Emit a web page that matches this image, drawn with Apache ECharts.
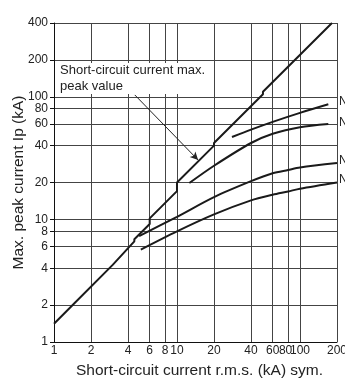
<!DOCTYPE html>
<html><head><meta charset="utf-8">
<script src="https://cdn.jsdelivr.net/npm/echarts@6/dist/echarts.min.js"></script>
<style>html,body{margin:0;padding:0;background:#fff}#c{width:345px;height:383px}</style>
</head><body><div id="c"></div>
<script>
// tick labels
const xTicks = [1, 2, 4, 6, 8, 10, 20, 40, 60, 80, 100, 200];
const yTicks = [1, 2, 4, 6, 8, 10, 20, 40, 60, 80, 100, 200, 400];
// short-circuit current max. peak value (stepped)
const peakX = [1, 1.5, 1.5, 3, 3, 4.5, 4.5, 6, 6, 10, 10, 20, 20, 50, 50, 182];
const peakY = [1.41, 2.12, 2.13, 4.26, 4.41, 6.62, 6.89, 9.18, 10.2, 17, 20, 40, 42, 105, 110, 400];
// breaker curves
const curveAX = [28, 40, 60, 100, 170];
const curveAY = [47, 54, 62.5, 74, 87];
const curveBX = [12.6, 20, 40, 60, 100, 170];
const curveBY = [19.8, 27.4, 42, 50, 56.5, 60];
const curveCX = [4.92, 10, 20, 40, 60, 80, 100, 200];
const curveCY = [7.3, 10.5, 15.2, 20.5, 23.8, 25.3, 26.5, 28.8];
const curveDX = [5.08, 10, 20, 40, 60, 80, 100, 200];
const curveDY = [5.68, 8.0, 11, 14.3, 15.9, 16.9, 17.8, 20];
// annotation arrow (data coordinates)
const arrowFrom = [4.54, 103.6];
const arrowTo = [14.85, 30.5];
const annotationText = 'Short-circuit current max.\npeak value';
const curveLabels = ['N', 'N', 'N', 'N'];

const font = '"Liberation Sans", Arial, Helvetica, sans-serif';
const zip = (xs, ys) => xs.map((x, i) => [x, ys[i]]);
const ls = { color: '#1a1a1a', width: 2 };
const txt = '#222';

const chart = echarts.init(document.getElementById('c'), null, { renderer: 'canvas' });
const mkSeries = (data, extra) => Object.assign({
  type: 'line', data: data, showSymbol: false, symbol: 'none', lineStyle: ls,
  silent: true, clip: true, z: 3
}, extra || {});

const labelY = [101.7, 122.3, 161, 179.3];

chart.setOption({
  animation: false,
  backgroundColor: '#fff',
  grid: { left: 54, top: 23, right: 8, bottom: 41, containLabel: false, outerBoundsMode: 'none' },
  xAxis: {
    type: 'log', logBase: 10, min: 1, max: 200,
    name: 'Short-circuit current r.m.s. (kA) sym.', nameLocation: 'middle', nameGap: 21,
    nameMoveOverlap: false,
    nameTextStyle: { fontSize: 15.5, color: txt, fontFamily: font, padding: [0, 0, 0, 8], verticalAlign: 'top' },
    axisLine: { show: true, lineStyle: { color: '#111', width: 1 } },
    axisTick: { show: false, customValues: xTicks },
    axisLabel: {
      customValues: xTicks, margin: 3, fontSize: 12, color: txt, fontFamily: font,
      hideOverlap: false, showMinLabel: true, showMaxLabel: true,
      formatter: function (v) { const r = Math.round(v); return r === 80 ? '{s|80}' : String(r); },
      rich: { s: { padding: [0, 5, 0, 0], fontSize: 12, color: txt, fontFamily: font } }
    },
    splitLine: { show: true, lineStyle: { color: '#444', width: 1 } },
    minorTick: { show: false }, minorSplitLine: { show: false }
  },
  yAxis: {
    type: 'log', logBase: 10, min: 1, max: 400,
    name: 'Max. peak current Ip (kA)', nameLocation: 'middle', nameGap: 27, nameRotate: 90,
    nameMoveOverlap: false,
    nameTextStyle: { fontSize: 15.5, color: txt, fontFamily: font, verticalAlign: 'bottom' },
    axisLine: { show: true, lineStyle: { color: '#111', width: 1 } },
    axisTick: { show: true, inside: false, length: 4, customValues: yTicks, lineStyle: { color: '#111' } },
    axisLabel: {
      customValues: yTicks, margin: 6, fontSize: 12, color: txt, fontFamily: font,
      hideOverlap: false, showMinLabel: true, showMaxLabel: true,
      formatter: function (v) { return String(Math.round(v)); }
    },
    splitLine: { show: true, lineStyle: { color: '#444', width: 1 } },
    minorTick: { show: false }, minorSplitLine: { show: false }
  },
  series: [
    mkSeries(zip(peakX, peakY), {
      markLine: {
        silent: true, animation: false,
        symbol: ['none', 'arrow'], symbolSize: [6, 8],
        label: { show: false },
        lineStyle: { color: '#222', width: 1, type: 'solid' },
        data: [[{ coord: arrowFrom }, { coord: arrowTo }]]
      }
    }),
    mkSeries(zip(curveAX, curveAY), { smooth: 0.3 }),
    mkSeries(zip(curveBX, curveBY), { smooth: 0.3 }),
    mkSeries(zip(curveCX, curveCY), { smooth: 0.3 }),
    mkSeries(zip(curveDX, curveDY), { smooth: 0.3 })
  ],
  graphic: [
    { type: 'rect', z: 5, shape: { x: 55, y: 63, width: 156, height: 31 }, style: { fill: '#fff' } },
    { type: 'text', z: 6, x: 60, y: 62, style: { text: annotationText, font: '13px ' + font, fill: txt, lineHeight: 16 } }
  ].concat(curveLabels.map((t, i) => ({
    type: 'text', z: 6, x: 339, y: labelY[i],
    style: { text: t, font: '12px ' + font, fill: txt, verticalAlign: 'middle' }
  })))
});
</script>
</body></html>
